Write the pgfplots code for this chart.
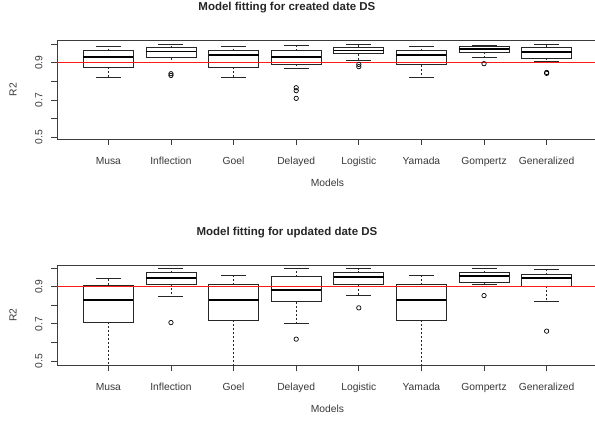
\documentclass[border=0pt]{standalone}
\usepackage{fontspec}
\setmainfont{Liberation Sans}
\usepackage{pgfplots}
\pgfplotsset{compat=1.18}
\usepgfplotslibrary{statistics}

\definecolor{axgray}{RGB}{60,60,60}

\pgfplotsset{
  rpanel/.style={
    scale only axis,
    width=541pt,
    xmin=0.18, xmax=8.82,
    axis line style={axgray, line width=0.8pt},
    tick align=outside,
    xtick pos=bottom, ytick pos=left,
    major tick length=6pt,
    tick style={axgray, line width=0.8pt},
    xtick={1,2,3,4,5,6,7,8},
    xticklabels={Musa,Inflection,Goel,Delayed,Logistic,Yamada,Gompertz,Generalized},
    ytick={0.5,0.6,0.7,0.8,0.9,1.0},
    yticklabels={0.5,,0.7,,0.9,},
    /pgf/number format/assume math mode=true,
    tick label style={font=\fontsize{10.3}{12}\selectfont, text=black!78},
    yticklabel style={xshift=-5pt, rotate=90, anchor=south},
    xticklabel style={yshift=-8.5pt},
    xlabel={Models},
    ylabel={R2},
    label style={font=\fontsize{10.3}{12}\selectfont, text=black!78},
    xlabel style={at={(axis description cs:0.5,0)}, anchor=center, yshift=-44pt},
    ylabel style={at={(axis description cs:-0.0813,0.5)}, anchor=center},
    title style={at={(axis description cs:0.425,1)}, anchor=center, yshift=26.5pt,
      font=\bfseries\fontsize{11.5}{13}\selectfont, text=black!85},
    boxplot/draw direction=y,
    boxplot/box extend=0.8,
    boxplot/whisker extend=0.4,
    boxplot/every box/.style={draw=black!85, fill=white, line width=0.8pt},
    boxplot/every median/.style={draw=black, line width=1.7pt},
    boxplot/draw/lower whisker/.code={%
      \draw[black!85, line width=0.8pt, dash pattern=on 2pt off 2pt]
        (boxplot cs:\pgfplotsboxplotvalue{lower quartile}) --
        (boxplot cs:\pgfplotsboxplotvalue{lower whisker});
      \draw[black!85, line width=0.8pt]
        (boxplot whisker cs:\pgfplotsboxplotvalue{lower whisker},0) --
        (boxplot whisker cs:\pgfplotsboxplotvalue{lower whisker},1);
    },
    boxplot/draw/upper whisker/.code={%
      \draw[black!85, line width=0.8pt, dash pattern=on 2pt off 2pt]
        (boxplot cs:\pgfplotsboxplotvalue{upper quartile}) --
        (boxplot cs:\pgfplotsboxplotvalue{upper whisker});
      \draw[black!85, line width=0.8pt]
        (boxplot whisker cs:\pgfplotsboxplotvalue{upper whisker},0) --
        (boxplot whisker cs:\pgfplotsboxplotvalue{upper whisker},1);
    },
  },
  rbp/.style={black, mark=o, mark size=2.2pt, mark options={line width=0.7pt}},
}

\begin{document}
\begin{tikzpicture}
\useasboundingbox (0pt,0pt) rectangle (595pt,426pt);

% created date
\begin{axis}[rpanel,
  at={(57pt,287pt)}, anchor=south west,
  height=99pt, ymin=0.491, ymax=1.022,
  title={Model fitting for created date DS}]
\addplot[rbp, boxplot prepared={draw position=1, lower whisker=0.820, lower quartile=0.877, median=0.929, upper quartile=0.964, upper whisker=0.990}] coordinates {};
\addplot[rbp, boxplot prepared={draw position=2, lower whisker=0.904, lower quartile=0.927, median=0.961, upper quartile=0.980, upper whisker=0.997}] coordinates {(0,0.841) (0,0.832)};
\addplot[rbp, boxplot prepared={draw position=3, lower whisker=0.820, lower quartile=0.877, median=0.941, upper quartile=0.964, upper whisker=0.988}] coordinates {};
\addplot[rbp, boxplot prepared={draw position=4, lower whisker=0.868, lower quartile=0.891, median=0.929, upper quartile=0.964, upper whisker=0.993}] coordinates {(0,0.766) (0,0.750) (0,0.709)};
\addplot[rbp, boxplot prepared={draw position=5, lower whisker=0.911, lower quartile=0.948, median=0.966, upper quartile=0.982, upper whisker=0.997}] coordinates {(0,0.891) (0,0.879)};
\addplot[rbp, boxplot prepared={draw position=6, lower whisker=0.820, lower quartile=0.889, median=0.943, upper quartile=0.964, upper whisker=0.988}] coordinates {};
\addplot[rbp, boxplot prepared={draw position=7, lower whisker=0.927, lower quartile=0.957, median=0.973, upper quartile=0.986, upper whisker=0.995}] coordinates {(0,0.895)};
\addplot[rbp, boxplot prepared={draw position=8, lower whisker=0.905, lower quartile=0.925, median=0.956, upper quartile=0.982, upper whisker=0.997}] coordinates {(0,0.848) (0,0.843)};
\addplot[red!90, line width=0.9pt] coordinates {(0,0.9) (9,0.9)};
\end{axis}

% updated date
\begin{axis}[rpanel,
  at={(57pt,60.7pt)}, anchor=south west,
  height=100.3pt, ymin=0.4775, ymax=1.0164,
  title={Model fitting for updated date DS}]
\addplot[rbp, boxplot prepared={draw position=1, lower whisker=0.300, lower quartile=0.709, median=0.827, upper quartile=0.907, upper whisker=0.947}] coordinates {};
\addplot[rbp, boxplot prepared={draw position=2, lower whisker=0.846, lower quartile=0.914, median=0.945, upper quartile=0.975, upper whisker=1.000}] coordinates {(0,0.707)};
\addplot[rbp, boxplot prepared={draw position=3, lower whisker=0.300, lower quartile=0.721, median=0.827, upper quartile=0.911, upper whisker=0.959}] coordinates {};
\addplot[rbp, boxplot prepared={draw position=4, lower whisker=0.704, lower quartile=0.820, median=0.882, upper quartile=0.954, upper whisker=1.000}] coordinates {(0,0.618)};
\addplot[rbp, boxplot prepared={draw position=5, lower whisker=0.852, lower quartile=0.911, median=0.952, upper quartile=0.975, upper whisker=0.997}] coordinates {(0,0.786)};
\addplot[rbp, boxplot prepared={draw position=6, lower whisker=0.300, lower quartile=0.721, median=0.827, upper quartile=0.911, upper whisker=0.959}] coordinates {};
\addplot[rbp, boxplot prepared={draw position=7, lower whisker=0.913, lower quartile=0.925, median=0.956, upper quartile=0.975, upper whisker=1.000}] coordinates {(0,0.852)};
\addplot[rbp, boxplot prepared={draw position=8, lower whisker=0.823, lower quartile=0.904, median=0.945, upper quartile=0.964, upper whisker=0.995}] coordinates {(0,0.661)};
\addplot[red!90, line width=0.9pt] coordinates {(0,0.9) (9,0.9)};
\end{axis}
\end{tikzpicture}
\end{document}
